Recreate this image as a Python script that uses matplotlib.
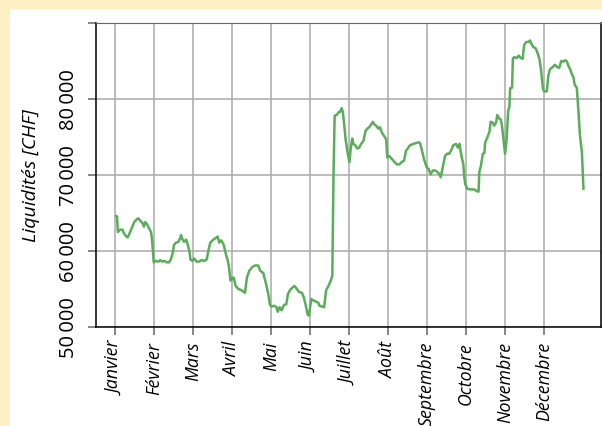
import numpy as np
import matplotlib
matplotlib.use("Agg")
import matplotlib.pyplot as plt
from matplotlib.patches import Rectangle

plt.rcParams['font.family'] = ['Open Sans', 'DejaVu Sans']

# x in month units (0 = Janvier), y in CHF
months = ['Janvier', 'Février', 'Mars', 'Avril', 'Mai', 'Juin', 'Juillet',
          'Août', 'Septembre', 'Octobre', 'Novembre', 'Décembre']
ytick_vals = [50000, 60000, 70000, 80000, 90000]
ytick_labels = ['50\u2009000', '60\u2009000', '70\u2009000', '80\u2009000', '']

x = [0.03, 0.05, 0.07, 0.13, 0.19, 0.21, 0.27, 0.32, 0.36, 0.41, 0.45, 0.49, 0.56, 0.60,
     0.64, 0.70, 0.74, 0.77, 0.81, 0.85, 0.92, 0.94, 0.97, 0.99, 1.04, 1.11, 1.16, 1.21,
     1.26, 1.33, 1.38, 1.43, 1.48, 1.51, 1.56, 1.62, 1.67, 1.69, 1.73, 1.77, 1.82, 1.86,
     1.91, 1.93, 1.98, 2.03, 2.09, 2.15, 2.22, 2.29, 2.35, 2.39, 2.44, 2.52, 2.58, 2.63,
     2.67, 2.72, 2.78, 2.84, 2.89, 2.92, 2.96, 3.01, 3.04, 3.09, 3.16, 3.25, 3.33, 3.38,
     3.44, 3.52, 3.59, 3.67, 3.72, 3.80, 3.86, 3.93, 3.97, 4.02, 4.08, 4.14, 4.17, 4.22,
     4.27, 4.33, 4.39, 4.43, 4.49, 4.55, 4.60, 4.66, 4.72, 4.79, 4.84, 4.89, 4.94, 4.97,
     5.03, 5.08, 5.13, 5.21, 5.24, 5.30, 5.36, 5.41, 5.47, 5.53, 5.57, 5.60, 5.63, 5.68,
     5.74, 5.77, 5.81, 5.84, 5.87, 5.91, 5.96, 6.01, 6.04, 6.08, 6.11, 6.16, 6.21, 6.26,
     6.31, 6.37, 6.42, 6.47, 6.52, 6.56, 6.61, 6.64, 6.69, 6.75, 6.79, 6.84, 6.90, 6.95,
     6.98, 7.03, 7.08, 7.15, 7.22, 7.29, 7.35, 7.41, 7.46, 7.52, 7.56, 7.65, 7.78, 7.82,
     7.86, 7.92, 7.99, 8.04, 8.09, 8.15, 8.21, 8.26, 8.32, 8.35, 8.40, 8.46, 8.51, 8.57,
     8.63, 8.67, 8.74, 8.79, 8.83, 8.89, 8.93, 8.95, 8.98, 9.03, 9.12, 9.21, 9.27, 9.32,
     9.34, 9.38, 9.43, 9.47, 9.49, 9.55, 9.60, 9.63, 9.68, 9.72, 9.77, 9.80, 9.84, 9.89,
     9.92, 9.96, 10.00, 10.04, 10.08, 10.11, 10.13, 10.18, 10.20, 10.23, 10.30, 10.35,
     10.40, 10.45, 10.49, 10.54, 10.60, 10.64, 10.68, 10.73, 10.78, 10.83, 10.88, 10.92,
     10.97, 11.00, 11.07, 11.11, 11.15, 11.22, 11.28, 11.34, 11.39, 11.44, 11.49, 11.54,
     11.58, 11.62, 11.67, 11.71, 11.75, 11.79, 11.84, 11.88, 11.92, 11.97, 12.01]

liquidites = [64600, 64500, 62500, 62800, 62800, 62500, 62000, 61800, 62200, 62800, 63300,
              63800, 64200, 64300, 64000, 63700, 63200, 63800, 63600, 63200, 62500, 61800,
              60000, 58500, 58700, 58600, 58800, 58600, 58700, 58500, 58500, 58900, 59800,
              60800, 61100, 61200, 61700, 62100, 61500, 61200, 61500, 60900, 59800, 58900,
              58700, 59000, 58600, 58600, 58800, 58700, 58900, 60000, 61100, 61500, 61700,
              61900, 61100, 61400, 60900, 59600, 58700, 57900, 56100, 56400, 56500, 55400,
              55000, 54800, 54500, 56500, 57400, 57900, 58100, 58100, 57400, 57100, 55900,
              54300, 52900, 52700, 52800, 52600, 52000, 52600, 52200, 52900, 53000, 54300,
              54900, 55200, 55400, 55000, 54600, 54500, 53900, 52800, 51600, 51500, 53700,
              53500, 53400, 53200, 52800, 52700, 52600, 54800, 55400, 56100, 56700, 69900,
              77800, 77900, 78300, 78300, 78800, 78300, 76900, 74700, 73000, 71700, 73400,
              74800, 74100, 73900, 73500, 73600, 74100, 74500, 75800, 76100, 76300, 76600,
              77000, 76700, 76500, 76100, 76300, 75600, 75100, 74700, 72300, 72500, 72200,
              71800, 71400, 71400, 71700, 71900, 73200, 73600, 73900, 74100, 74300, 74200,
              73400, 72100, 71000, 70800, 70100, 70600, 70600, 70400, 70100, 69700, 71000,
              72500, 72800, 72800, 73400, 73900, 74100, 73600, 74100, 72300, 71400, 69900,
              68800, 68200, 68100, 68100, 67900, 67800, 70400, 71200, 72800, 72900, 74300,
              75000, 75700, 77000, 76900, 76500, 76900, 77900, 77500, 77300, 76500, 74700,
              72800, 74700, 78500, 79000, 81400, 81500, 85300, 85500, 85400, 85700, 85400,
              85300, 87100, 87500, 87500, 87700, 87200, 86800, 86700, 86100, 85300, 83900,
              81400, 81000, 81000, 83100, 83900, 84200, 84500, 84200, 84100, 85000, 84900,
              85100, 85000, 84400, 83900, 83300, 82900, 81800, 81500, 78500, 75200, 73000,
              68200]

fig = plt.figure(figsize=(6.02, 4.27), dpi=100)
fig.patch.set_facecolor('#fdf0c5')
fig.add_artist(Rectangle((10 / 602, 0), 1, 1 - 10 / 427, transform=fig.transFigure,
                         facecolor='white', edgecolor='none', zorder=-5))

ax = fig.add_axes([96 / 602, 1 - 328 / 427, (601 - 96) / 602, (328 - 24) / 427])
ax.set_zorder(2)
ax.set_facecolor('white')

ax.plot(x, liquidites, color='#5aad5a', lw=1.8, zorder=3)

ax.set_xlim(-0.49, 12.46)
ax.set_ylim(50000, 90000)
ax.set_xticks(range(len(months)))
ax.set_xticklabels(months, rotation=90, fontstyle='italic', fontsize=12.8, va='top')
ax.set_yticks(ytick_vals)
ax.set_yticklabels(ytick_labels, rotation=90, va='center', fontsize=14.5)
ax.set_ylabel('Liquidités [CHF]', fontstyle='italic', fontsize=14, labelpad=14)

ax.grid(True, color='#aaaaaa', lw=1.1)
ax.tick_params(axis='x', color='#666666', length=6, width=1.1, pad=4)
ax.tick_params(axis='y', color='#666666', length=6, width=1.1, pad=6)
ax.spines['top'].set_color('#666666')
for s in ['left', 'bottom', 'right']:
    ax.spines[s].set_color('black')
    ax.spines[s].set_linewidth(1.1)

fig.savefig('out.png', dpi=100, facecolor=fig.get_facecolor())
